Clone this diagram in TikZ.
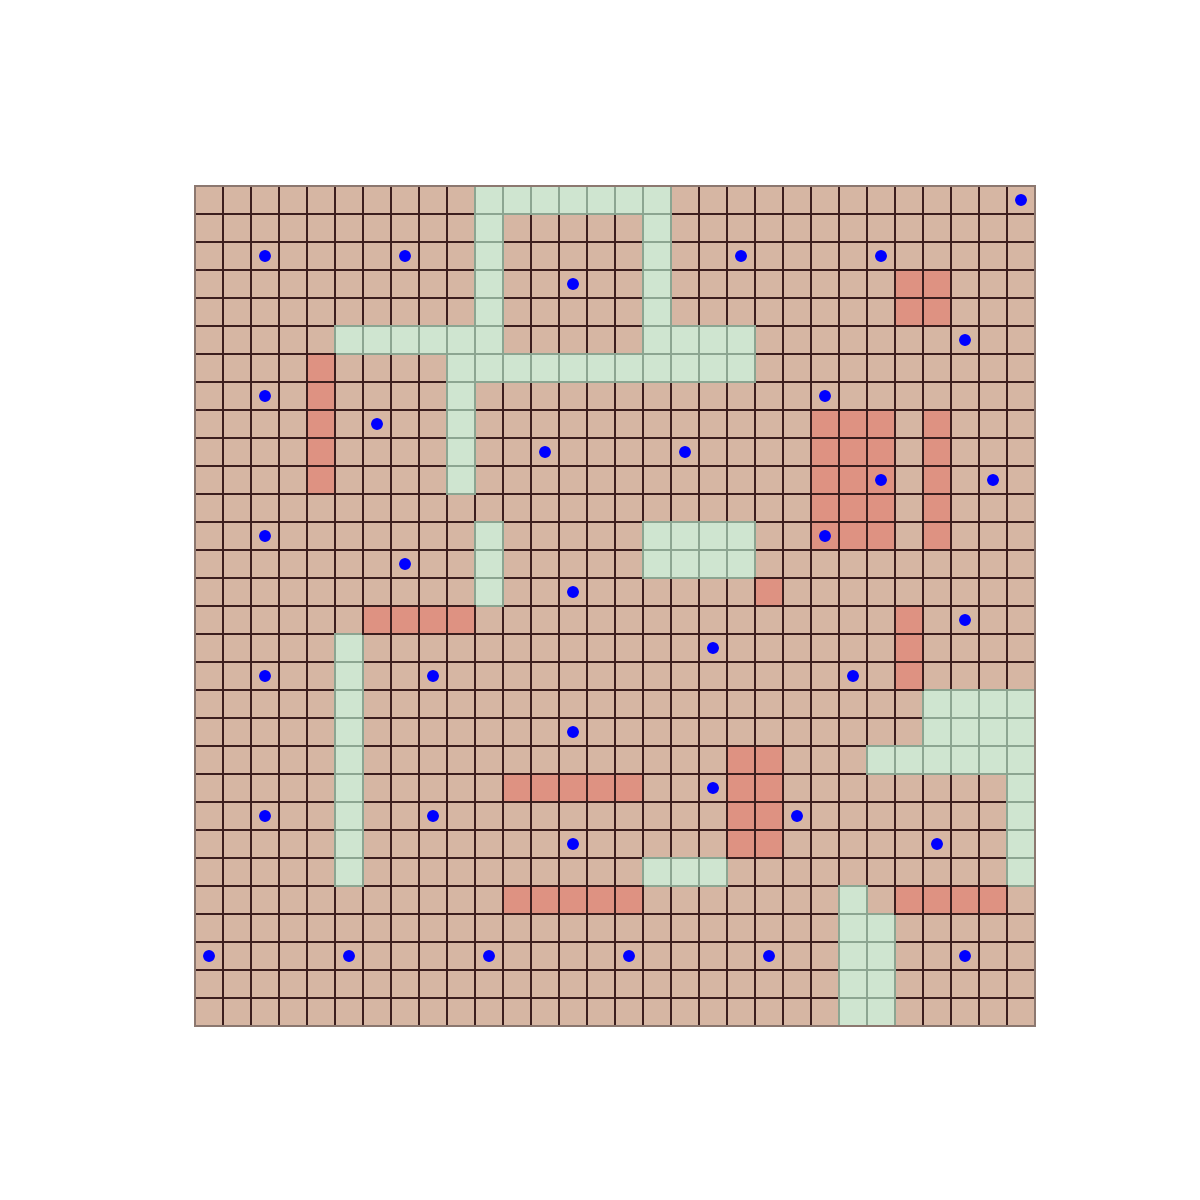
\documentclass[tikz,border=0pt]{standalone}
\usepackage{xcolor}
\usepackage{tikz}
\definecolor{soil}{RGB}{214,182,163}
\definecolor{grass}{RGB}{207,229,208}
\definecolor{brick}{RGB}{222,146,130}
\definecolor{gridline}{RGB}{60,30,30}
\definecolor{grassline}{RGB}{140,165,145}
\definecolor{frameline}{RGB}{140,120,112}
\definecolor{agent}{RGB}{0,0,255}

\begin{document}
\begin{tikzpicture}[x=0.5cm,y=-0.5cm,
soilcell/.style={fill=soil,draw=gridline,line width=0.6pt},
grasscell/.style={fill=grass,draw=grassline,line width=0.6pt},
brickcell/.style={fill=brick,draw=gridline,line width=0.6pt},
agentdot/.style={fill=agent}]
\useasboundingbox (-6.964,-6.643) rectangle (35.893,36.214);
\foreach \c in {0,...,29} \foreach \r in {0,...,29}
  \filldraw[soilcell] (\c,\r) rectangle ++(1,1);
\foreach \ca/\ra/\cb/\rb in {10/0/16/0,10/1/10/4,16/1/16/4,5/5/10/5,16/5/19/5,9/6/19/6,9/7/9/10,
  10/12/10/14,16/12/19/13,5/16/5/24,26/18/29/19,24/20/29/20,29/21/29/24,16/24/18/24,23/25/23/29,24/26/24/29}
  \foreach \c in {\ca,...,\cb} \foreach \r in {\ra,...,\rb}
    \filldraw[grasscell] (\c,\r) rectangle ++(1,1);
\foreach \ca/\ra/\cb/\rb in {4/6/4/10,6/15/9/15,25/3/26/4,22/8/24/12,26/8/26/12,20/14/20/14,
  25/15/25/17,19/20/20/23,11/21/15/21,11/25/15/25,25/25/28/25}
  \foreach \c in {\ca,...,\cb} \foreach \r in {\ra,...,\rb}
    \filldraw[brickcell] (\c,\r) rectangle ++(1,1);
\draw[frameline,line width=0.6pt] (0,0) rectangle (30,30);
\foreach \c/\r in {29/0,2/2,7/2,19/2,24/2,13/3,27/5,2/7,22/7,6/8,12/9,17/9,24/10,28/10,2/12,22/12,
  7/13,13/14,27/15,18/16,2/17,8/17,23/17,13/19,18/21,2/22,8/22,21/22,13/23,26/23,
  0/27,5/27,10/27,15/27,20/27,27/27}
  \fill[agentdot] (\c+0.5,\r+0.5) circle[radius=0.21];
\end{tikzpicture}
\end{document}
